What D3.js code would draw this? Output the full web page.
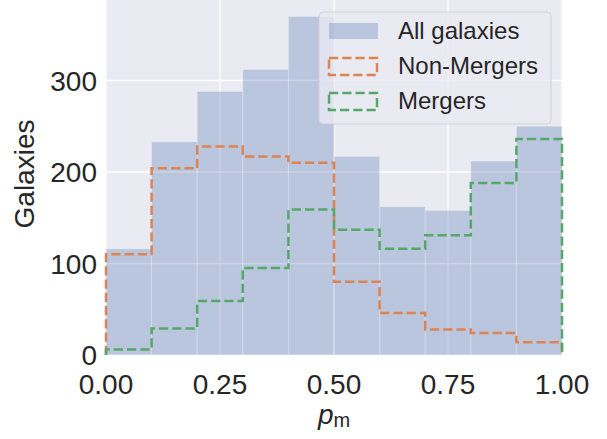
<!DOCTYPE html>
<html>
<head>
<meta charset="utf-8">
<script src="https://cdn.jsdelivr.net/npm/d3@7"></script>
<style>
  body { margin: 0; background: #fff; }
  svg text { font-family: "Liberation Sans", Arial, sans-serif; fill: #262626; }
</style>
</head>
<body>
<svg id="chart"></svg>
<script>
// bin edges of p_m histogram (10 bins of 0.1)
const binEdges = [0, 0.1, 0.2, 0.3, 0.4, 0.5, 0.6, 0.7, 0.8, 0.9, 1.0];
// counts
const allGalaxies = [116, 233, 288, 312, 370, 217, 162, 158, 212, 250];
const nonMergers = [110, 204, 228, 217, 210, 80, 46, 28, 24, 14];
const mergers = [6, 29, 59, 95, 159, 137, 116, 131, 188, 236];

const xTicks = [0, 0.25, 0.5, 0.75, 1.0];
const yTicks = [0, 100, 200, 300];

const width = 607;
const height = 439;
const margin = { left: 106, right: 45, top: 0, bottom: 84 };

const svg = d3.select('#chart')
  .attr('width', width)
  .attr('height', height);

const x = d3.scaleLinear().domain([0, 1]).range([margin.left, width - margin.right]);
const y = d3.scaleLinear().domain([0, 388]).range([height - margin.bottom, margin.top]);

// axes background
svg.append('rect')
  .attr('x', x(0))
  .attr('y', y(388))
  .attr('width', x(1) - x(0))
  .attr('height', y(0) - y(388))
  .style('fill', '#EAEAF2');

// grid lines
svg.selectAll('.ygrid')
  .data(yTicks)
  .enter().append('line')
  .attr('class', 'ygrid')
  .attr('x1', x(0)).attr('x2', x(1))
  .attr('y1', d => y(d)).attr('y2', d => y(d))
  .style('stroke', '#fff')
  .style('stroke-width', 1.3);

svg.selectAll('.xgrid')
  .data(xTicks)
  .enter().append('line')
  .attr('class', 'xgrid')
  .attr('x1', d => x(d)).attr('x2', d => x(d))
  .attr('y1', y(0)).attr('y2', y(388))
  .style('stroke', '#fff')
  .style('stroke-width', 1.3);

// all galaxies bars
svg.selectAll('.bar')
  .data(allGalaxies)
  .enter().append('rect')
  .attr('class', 'bar')
  .attr('x', (d, i) => x(binEdges[i]))
  .attr('y', d => y(d))
  .attr('width', (d, i) => x(binEdges[i + 1]) - x(binEdges[i]))
  .attr('height', d => y(0) - y(d))
  .style('fill', '#4C72B0')
  .style('fill-opacity', 0.3)
  .style('stroke', '#fff')
  .style('stroke-opacity', 0.25)
  .style('stroke-width', 1);

// step outline for a series
function stepPoints(values) {
  const pts = [[0, 0]];
  values.forEach((v, i) => pts.push([binEdges[i], v]));
  pts.push([binEdges[binEdges.length - 1], values[values.length - 1]]);
  pts.push([binEdges[binEdges.length - 1], 0]);
  return pts;
}

const stepLine = d3.line()
  .x(d => x(d[0]))
  .y(d => y(d[1]))
  .curve(d3.curveStepAfter);

const series = [
  { name: 'Non-Mergers', values: nonMergers, color: '#DD8452' },
  { name: 'Mergers', values: mergers, color: '#55A868' }
];

series.forEach(s => {
  svg.append('path')
    .attr('d', stepLine(stepPoints(s.values)))
    .style('fill', 'none')
    .style('stroke', s.color)
    .style('stroke-width', 2.5)
    .style('stroke-dasharray', '9.25,4');
});

// tick labels
svg.selectAll('.ytick')
  .data(yTicks)
  .enter().append('text')
  .attr('class', 'ytick')
  .attr('x', x(0) - 9)
  .attr('y', d => y(d))
  .attr('dy', '0.36em')
  .attr('text-anchor', 'end')
  .style('font-size', '28px')
  .text(d => d);

svg.selectAll('.xtick')
  .data(xTicks)
  .enter().append('text')
  .attr('class', 'xtick')
  .attr('x', d => x(d))
  .attr('y', y(0) + 39)
  .attr('text-anchor', 'middle')
  .style('font-size', '28px')
  .text(d => d.toFixed(2));

// axis labels
svg.append('text')
  .attr('transform', `translate(34, 174) rotate(-90)`)
  .attr('text-anchor', 'middle')
  .style('font-size', '28px')
  .text('Galaxies');

const xLabel = svg.append('text')
  .attr('x', (x(0) + x(1)) / 2)
  .attr('y', 424)
  .attr('text-anchor', 'middle')
  .style('font-size', '28px');
xLabel.append('tspan').style('font-style', 'italic').text('p');
xLabel.append('tspan').attr('dy', 3).style('font-size', '20px').text('m');

// legend
const legend = svg.append('g').attr('transform', 'translate(319, 12)');

legend.append('rect')
  .attr('width', 232)
  .attr('height', 112)
  .attr('rx', 4)
  .style('fill', '#EAEAF2')
  .style('fill-opacity', 0.8)
  .style('stroke', '#cccccc')
  .style('stroke-opacity', 0.8)
  .style('stroke-width', 1);

legend.append('rect')
  .attr('x', 10).attr('y', 11)
  .attr('width', 49).attr('height', 16)
  .style('fill', '#4C72B0')
  .style('fill-opacity', 0.3);

series.forEach((s, i) => {
  legend.append('rect')
    .attr('x', 10).attr('y', 46 + i * 35)
    .attr('width', 48).attr('height', 17)
    .style('fill', 'none')
    .style('stroke', s.color)
    .style('stroke-width', 2.5)
    .style('stroke-dasharray', '9.25,4');
});

const legendLabels = ['All galaxies'].concat(series.map(s => s.name));
legend.selectAll('.legend-text')
  .data(legendLabels)
  .enter().append('text')
  .attr('class', 'legend-text')
  .attr('x', 79)
  .attr('y', (d, i) => 27 + i * 35)
  .style('font-size', '24px')
  .text(d => d);
</script>
</body>
</html>
